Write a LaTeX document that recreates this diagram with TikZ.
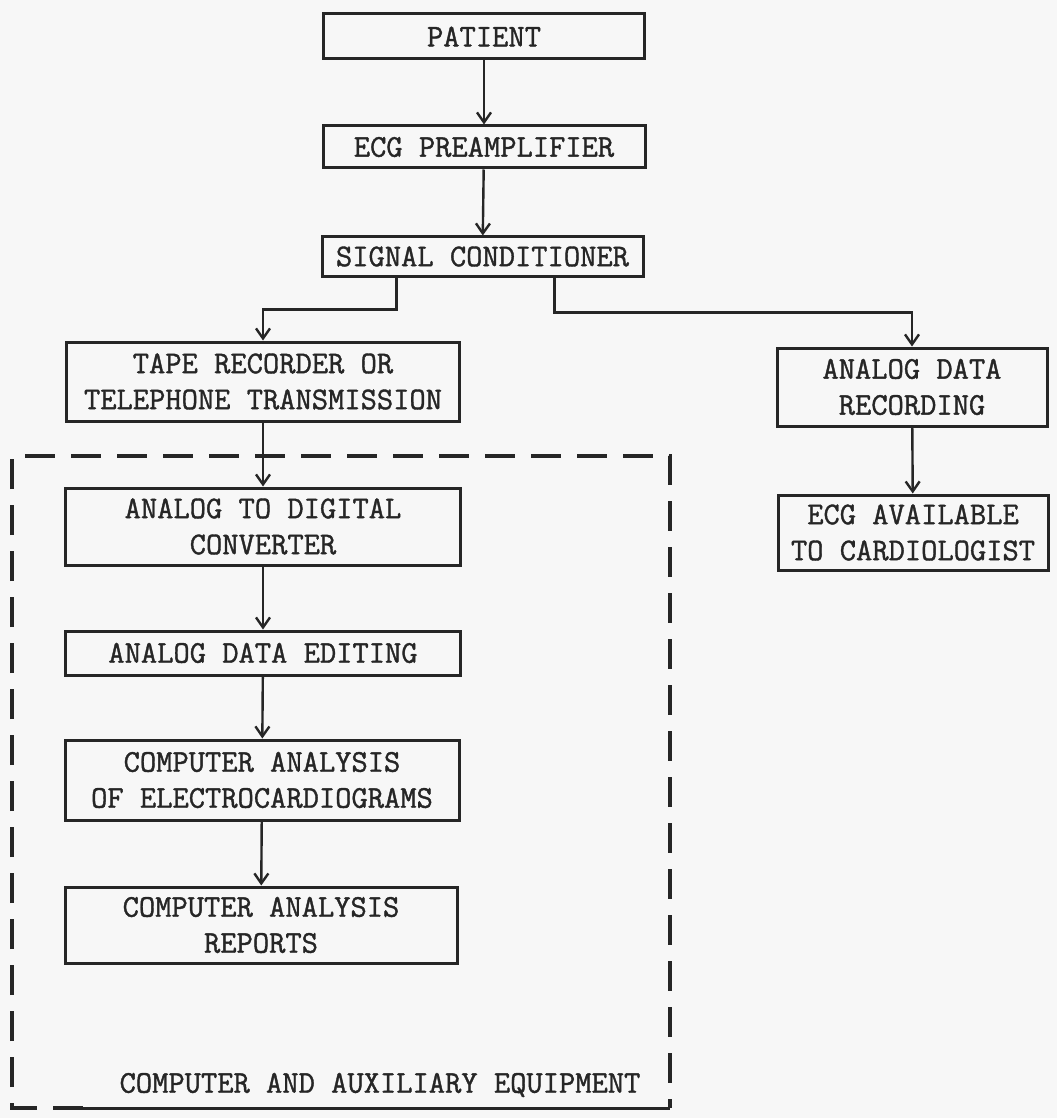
\documentclass[tikz,border=0pt]{standalone}
\usepackage{fontspec}
\usepackage{tikz}
\usetikzlibrary{arrows.meta,positioning}
\newfontfamily\typefont{Latin Modern Mono}[FakeBold=1.2]

\begin{document}
\begin{tikzpicture}[x=0.5pt, y=-0.5pt,
    block/.style={rectangle, draw=black!85, line width=1.5pt, inner sep=0pt, align=center,
        text=black!85, font=\typefont\fontsize{15.8}{18}\selectfont},
    arrow/.style={-{Straight Barb[length=5pt,width=7pt]}, line width=1.2pt, draw=black!85},
    groupline/.style={dash pattern=on 15pt off 8pt, line width=1.8pt, draw=black!85}]

% page and margins
\fill[black!3] (0,0) rectangle (1057,1118);

\node[block, minimum width=160.5pt, minimum height=22.5pt] (patient) at (484,36.5) {PATIENT};
\node[block, minimum width=161pt, minimum height=21pt] (preamp) at (484,147) {ECG PREAMPLIFIER};
\node[block, minimum width=160.5pt, minimum height=19.5pt] (cond) at (482.5,256.5) {SIGNAL CONDITIONER};
\node[block, minimum width=196.5pt, minimum height=39.5pt] (tape) at (263,381.5) {TAPE RECORDER OR\\TELEPHONE TRANSMISSION};
\node[block, minimum width=135pt, minimum height=39pt] (recording) at (912,387) {ANALOG DATA\\RECORDING};
\node[block, minimum width=135pt, minimum height=37.5pt] (available) at (913,532.5) {ECG AVAILABLE\\TO CARDIOLOGIST};
\node[block, minimum width=197.5pt, minimum height=38.5pt] (adc) at (263,526.5) {ANALOG TO DIGITAL\\CONVERTER};
\node[block, minimum width=197.5pt, minimum height=22pt] (editing) at (263,653) {ANALOG DATA EDITING};
\node[block, minimum width=197pt, minimum height=40pt] (analysis) at (262,780) {COMPUTER ANALYSIS\\OF ELECTROCARDIOGRAMS};
\node[block, minimum width=196pt, minimum height=38pt] (reports) at (261,925) {COMPUTER ANALYSIS\\REPORTS};
\node[text=black!85, font=\typefont\fontsize{15.8}{18}\selectfont] (equip) at (380,1085) {COMPUTER AND AUXILIARY EQUIPMENT};

\draw[arrow] (patient) -- (preamp);
\draw[arrow] (preamp) -- (cond);
\draw[arrow] ([xshift=38pt]cond.south west) -- ++(0,32) -| (tape.north);
\draw[arrow] ([xshift=117pt]cond.south west) -- ++(0,35) -| (recording.north);
\draw[arrow] (recording) -- (available);
\draw[arrow] (tape) -- (adc);
\draw[arrow] (adc) -- (editing);
\draw[arrow] (editing) -- (analysis);
\draw[arrow] (analysis) -- (reports);

% computer and auxiliary equipment
\draw[groupline] (83,1108) -| (12,456) -| (670,1108);
\draw[line width=1.5pt, draw=black!85] (83,1108) -- (670,1108);

\end{tikzpicture}
\end{document}
